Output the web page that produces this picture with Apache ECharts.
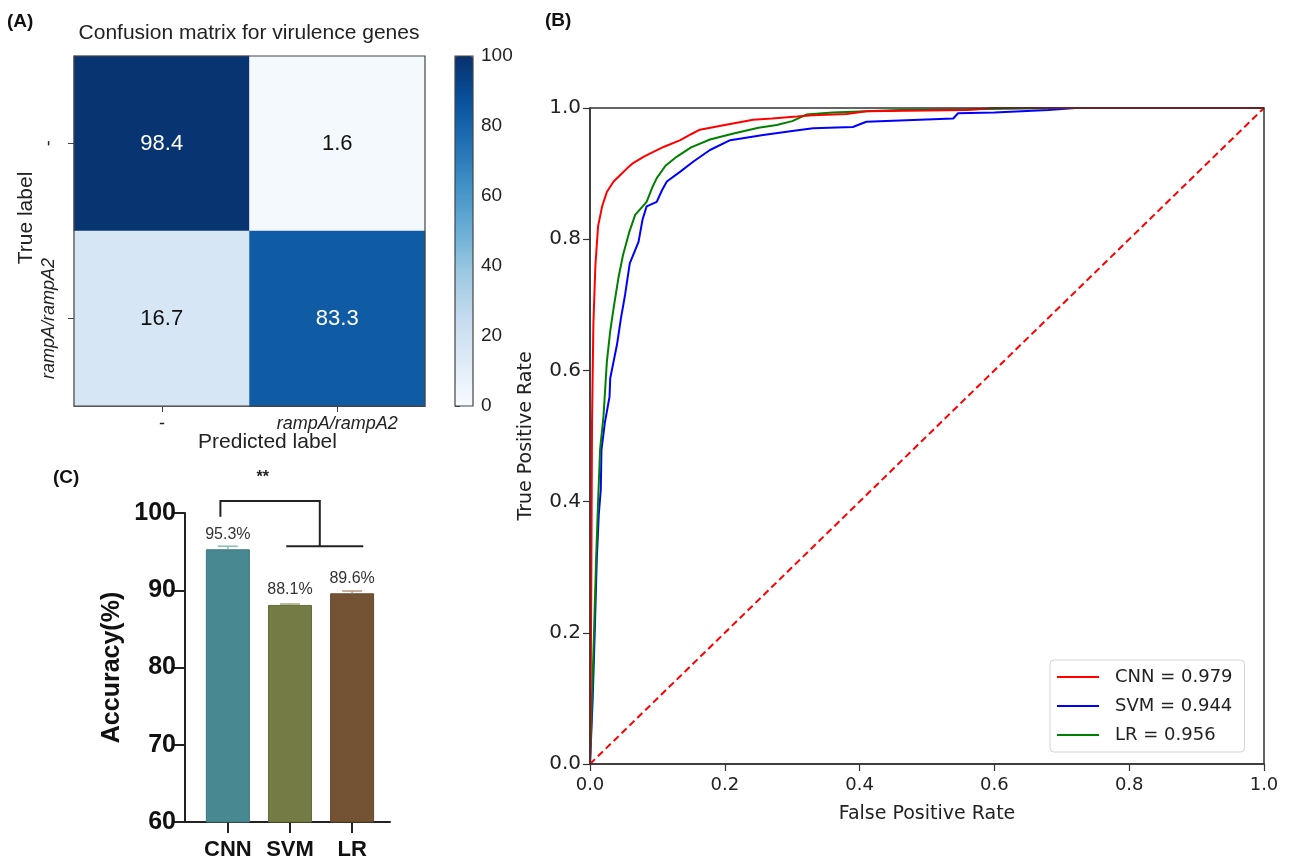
<!DOCTYPE html>
<html><head><meta charset="utf-8">
<script src="https://cdn.jsdelivr.net/npm/echarts@6/dist/echarts.min.js"></script>
<style>html,body{margin:0;padding:0;background:#fff}#c{width:1290px;height:863px}</style>
</head><body><div id="c"></div>
<script>
// ---------- Panel A: confusion matrix ----------
const cmPredicted = ['-', 'rampA/rampA2'];
const cmTrue = ['-', 'rampA/rampA2'];
const cmValues = [[98.4, 1.6], [16.7, 83.3]]; // rows = true label, cols = predicted
const cbTicks = [0, 20, 40, 60, 80, 100];

// ---------- Panel B: ROC curves ----------
const cnnFpr = [0, 0.001, 0.002, 0.003, 0.005, 0.008, 0.012, 0.018, 0.025, 0.035, 0.045, 0.055, 0.064, 0.08, 0.094, 0.11, 0.134, 0.15, 0.163, 0.2, 0.242, 0.27, 0.307, 0.33, 0.381, 0.41, 0.5, 0.56, 0.6, 1];
const cnnTpr = [0, 0.1, 0.3, 0.52, 0.67, 0.76, 0.82, 0.85, 0.872, 0.888, 0.898, 0.908, 0.916, 0.926, 0.933, 0.941, 0.951, 0.96, 0.967, 0.974, 0.982, 0.984, 0.987, 0.989, 0.991, 0.995, 0.996, 0.997, 1.0, 1];
const svmFpr = [0, 0.004, 0.007, 0.01, 0.013, 0.016, 0.017, 0.022, 0.029, 0.03, 0.04, 0.046, 0.052, 0.059, 0.072, 0.078, 0.084, 0.099, 0.107, 0.114, 0.134, 0.153, 0.178, 0.208, 0.257, 0.3, 0.331, 0.39, 0.41, 0.539, 0.546, 0.6, 0.68, 0.72, 1];
const svmTpr = [0, 0.1, 0.2, 0.31, 0.38, 0.418, 0.479, 0.52, 0.56, 0.588, 0.639, 0.68, 0.715, 0.763, 0.796, 0.83, 0.85, 0.857, 0.875, 0.888, 0.903, 0.918, 0.936, 0.951, 0.959, 0.965, 0.969, 0.971, 0.979, 0.984, 0.992, 0.993, 0.997, 1.0, 1];
const lrFpr = [0, 0.003, 0.006, 0.009, 0.012, 0.015, 0.02, 0.025, 0.03, 0.035, 0.042, 0.049, 0.058, 0.067, 0.084, 0.092, 0.099, 0.112, 0.129, 0.15, 0.178, 0.213, 0.25, 0.277, 0.3, 0.321, 0.36, 0.46, 0.56, 0.7, 1];
const lrTpr = [0, 0.1, 0.2, 0.31, 0.4, 0.48, 0.53, 0.613, 0.66, 0.695, 0.74, 0.776, 0.81, 0.837, 0.857, 0.878, 0.893, 0.912, 0.926, 0.94, 0.952, 0.961, 0.97, 0.974, 0.98, 0.99, 0.993, 0.997, 0.998, 1.0, 1];
const rocNames = ['CNN = 0.979', 'SVM = 0.944', 'LR = 0.956'];
const chanceFpr = [0, 1];
const chanceTpr = [0, 1];

// ---------- Panel C: accuracy bars ----------
const accCats = ['CNN', 'SVM', 'LR'];
const accValues = [95.3, 88.1, 89.6];
const accErrors = [0.4, 0.12, 0.3];

// ---------- styles ----------
const blues = ['#f7fbff', '#deebf7', '#c6dbef', '#9ecae1', '#6baed6', '#4292c6', '#2171b5', '#08519c', '#08306b'];
const rocColors = ['#ff0000', '#0000ff', '#008000'];
const barColors = ['#478891', '#757b45', '#745334'];
const barBorders = ['#3d7880', '#666b3a', '#65472b'];
const errColors = ['#86bcc3', '#a3a87a', '#b8987a'];
const ARIAL = '"Liberation Sans", Arial, sans-serif';
const DEJAVU = '"DejaVu Sans", sans-serif';

const zip = (a, b) => a.map((v, i) => [v, b[i]]);

const heatData = [];
cmValues.forEach((row, i) => row.forEach((v, j) => {
  heatData.push({ value: [j, i, v], label: { color: v > 50 ? '#ffffff' : '#111111' } });
}));

const chart = echarts.init(document.getElementById('c'), null, { renderer: 'canvas' });

const option = {
  animation: false,
  backgroundColor: '#ffffff',
  grid: [
    { left: 74, top: 56, width: 351, height: 350, show: true, borderColor: '#444', borderWidth: 1.2, z: 5 },
    { left: 455, top: 56, width: 18, height: 350, show: true, borderColor: '#444', borderWidth: 1.2, z: 10 },
    { left: 590, top: 108, width: 674, height: 656, show: true, borderColor: '#333', borderWidth: 1.5, z: 5 },
    { left: 185, top: 513, width: 205, height: 309 }
  ],
  xAxis: [
    { type: 'category', gridIndex: 0, data: cmPredicted, position: 'bottom',
      axisLine: { show: true, lineStyle: { color: '#444', width: 1.2 } },
      axisTick: { show: true, alignWithLabel: true, length: 6, lineStyle: { color: '#444' } },
      axisLabel: { fontFamily: ARIAL, fontSize: 18, fontStyle: 'italic', color: '#222', margin: 9, interval: 0 },
      splitLine: { show: false },
      name: 'Predicted label', nameLocation: 'middle', nameGap: 26, nameMoveOverlap: false,
      nameTextStyle: { fontFamily: ARIAL, fontSize: 21, color: '#222', padding: [0, 0, 0, 36] } },
    { type: 'value', gridIndex: 1, show: false, min: 0, max: 1 },
    { type: 'value', gridIndex: 2, min: 0, max: 1, interval: 0.2,
      axisLine: { show: true, lineStyle: { color: '#333', width: 1.5 } },
      axisTick: { show: true, length: 7, lineStyle: { color: '#333', width: 1.2 } },
      axisLabel: { fontFamily: DEJAVU, fontSize: 18, color: '#222', margin: 12, formatter: v => v.toFixed(1) },
      splitLine: { show: false },
      name: 'False Positive Rate', nameLocation: 'middle', nameGap: 41, nameMoveOverlap: false,
      nameTextStyle: { fontFamily: DEJAVU, fontSize: 19, color: '#222' } },
    { type: 'value', gridIndex: 3, min: -0.69, max: 2.61,
      axisLine: { show: true, onZero: false, lineStyle: { color: '#222', width: 2 } },
      axisTick: { show: true, customValues: [0, 1, 2], length: 11, lineStyle: { color: '#222', width: 2 } },
      axisLabel: { customValues: [0, 1, 2], formatter: v => accCats[Math.round(v)], fontFamily: ARIAL, fontWeight: 'bold', fontSize: 22, color: '#111', margin: 17 },
      splitLine: { show: false } }
  ],
  yAxis: [
    { type: 'category', gridIndex: 0, data: cmTrue, inverse: true,
      axisLine: { show: true, lineStyle: { color: '#444', width: 1.2 } },
      axisTick: { show: true, alignWithLabel: true, length: 6, lineStyle: { color: '#444' } },
      axisLabel: { fontFamily: ARIAL, fontSize: 18, fontStyle: 'italic', color: '#222', rotate: 90, margin: 16, interval: 0 },
      splitLine: { show: false },
      name: 'True label', nameLocation: 'middle', nameGap: 37, nameMoveOverlap: false,
      nameTextStyle: { fontFamily: ARIAL, fontSize: 21, color: '#222', padding: [0, 0, 0, 26] } },
    { type: 'value', gridIndex: 1, position: 'right', min: 0, max: 100, interval: 20,
      axisLine: { show: false },
      axisTick: { show: true, length: 5, lineStyle: { color: '#444' } },
      axisLabel: { fontFamily: ARIAL, fontSize: 19, color: '#222', margin: 8 },
      splitLine: { show: false } },
    { type: 'value', gridIndex: 2, min: 0, max: 1, interval: 0.2,
      axisLine: { show: true, lineStyle: { color: '#333', width: 1.5 } },
      axisTick: { show: true, length: 7, lineStyle: { color: '#333', width: 1.2 } },
      axisLabel: { fontFamily: DEJAVU, fontSize: 20, color: '#222', margin: 9, formatter: v => v.toFixed(1) },
      splitLine: { show: false },
      name: 'True Positive Rate', nameLocation: 'middle', nameGap: 54, nameMoveOverlap: false,
      nameTextStyle: { fontFamily: DEJAVU, fontSize: 19, color: '#222' } },
    { type: 'value', gridIndex: 3, min: 60, max: 100, interval: 10,
      axisLine: { show: true, onZero: false, lineStyle: { color: '#222', width: 2 } },
      axisTick: { show: true, length: 11, lineStyle: { color: '#222', width: 2 } },
      axisLabel: { fontFamily: ARIAL, fontWeight: 'bold', fontSize: 25, color: '#111', margin: 9 },
      splitLine: { show: false },
      name: 'Accuracy(%)', nameLocation: 'middle', nameGap: 60, nameMoveOverlap: false,
      nameTextStyle: { fontFamily: ARIAL, fontWeight: 'bold', fontSize: 25, color: '#111' } }
  ],
  visualMap: {
    type: 'continuous', seriesIndex: 0, min: 0, max: 100, calculable: false, realtime: false,
    orient: 'vertical', left: 455, top: 56, itemWidth: 18, itemHeight: 350, padding: 0,
    text: null, showLabel: false, hoverLink: false,
    inRange: { color: blues }
  },
  legend: {
    data: rocNames, orient: 'vertical', left: 1050, top: 660,
    icon: 'rect', itemWidth: 42, itemHeight: 2, itemGap: 11,
    padding: [8, 12, 8, 7], borderColor: '#d4d4d4', borderWidth: 1, borderRadius: 4,
    backgroundColor: '#fff',
    textStyle: { fontFamily: DEJAVU, fontSize: 18, color: '#222', padding: [0, 0, 0, 11] }
  },
  graphic: [
    { type: 'text', left: 7, top: 12, style: { text: '(A)', font: 'bold 19px "Liberation Sans", Arial', fill: '#111' } },
    { type: 'text', left: 545, top: 11, style: { text: '(B)', font: 'bold 19px "Liberation Sans", Arial', fill: '#111' } },
    { type: 'text', left: 53, top: 468, style: { text: '(C)', font: 'bold 19px "Liberation Sans", Arial', fill: '#111' } },
    { type: 'text', x: 249, y: 33, style: { text: 'Confusion matrix for virulence genes', font: '21px "Liberation Sans", Arial', fill: '#222', textAlign: 'center', textVerticalAlign: 'middle' } }
  ],
  series: [
    { type: 'heatmap', xAxisIndex: 0, yAxisIndex: 0, data: heatData,
      label: { show: true, fontFamily: ARIAL, fontSize: 22, formatter: p => p.value[2].toFixed(1) },
      emphasis: { disabled: true } },
    { type: 'line', name: rocNames[0], xAxisIndex: 2, yAxisIndex: 2, data: zip(cnnFpr, cnnTpr), showSymbol: false, symbol: 'none',
      lineStyle: { color: rocColors[0], width: 2 }, itemStyle: { color: rocColors[0] }, z: 4 },
    { type: 'line', name: rocNames[1], xAxisIndex: 2, yAxisIndex: 2, data: zip(svmFpr, svmTpr), showSymbol: false, symbol: 'none',
      lineStyle: { color: rocColors[1], width: 2 }, itemStyle: { color: rocColors[1] }, z: 2 },
    { type: 'line', name: rocNames[2], xAxisIndex: 2, yAxisIndex: 2, data: zip(lrFpr, lrTpr), showSymbol: false, symbol: 'none',
      lineStyle: { color: rocColors[2], width: 2 }, itemStyle: { color: rocColors[2] }, z: 3 },
    { type: 'line', name: 'chance', xAxisIndex: 2, yAxisIndex: 2, data: zip(chanceFpr, chanceTpr), showSymbol: false, symbol: 'none',
      lineStyle: { color: '#ff0000', width: 2, type: [7, 4] }, z: 2 },
    { type: 'bar', xAxisIndex: 3, yAxisIndex: 3, barWidth: 44, z: 3,
      data: accValues.map((v, i) => ({ value: [i, v], itemStyle: { color: barColors[i], borderColor: barBorders[i], borderWidth: 1 } })),
      label: { show: true, position: 'top', distance: 7, fontFamily: ARIAL, fontSize: 16, color: '#333', formatter: p => p.value[1].toFixed(1) + '%' } },
    { type: 'custom', xAxisIndex: 3, yAxisIndex: 3, z: 4, clip: false, silent: true,
      data: accValues.map((v, i) => [i, v]),
      renderItem: (params, api) => {
        const i = params.dataIndex;
        const x = api.value(0), y = api.value(1), e = accErrors[i];
        const t = api.coord([x, y + e]), b = api.coord([x, y]);
        const st = { stroke: errColors[i], lineWidth: 1.5 };
        return { type: 'group', children: [
          { type: 'line', shape: { x1: t[0], y1: t[1], x2: b[0], y2: b[1] }, style: st },
          { type: 'line', shape: { x1: t[0] - 10, y1: t[1], x2: t[0] + 10, y2: t[1] }, style: st }
        ] };
      } },
    { type: 'custom', xAxisIndex: 3, yAxisIndex: 3, z: 5, clip: false, silent: true,
      data: [[0, 100]],
      renderItem: (params, api) => {
        const p = (x, y) => api.coord([x, y]);
        const a = p(-0.12, 99.5), bTop = p(-0.12, 101.55), cTop = p(1.48, 101.55), d = p(1.48, 95.7);
        const e1 = p(0.94, 95.7), e2 = p(2.18, 95.7), star = p(0.56, 104.6);
        const st = { stroke: '#222', lineWidth: 2, fill: null };
        return { type: 'group', children: [
          { type: 'polyline', shape: { points: [a, bTop, cTop, d] }, style: st },
          { type: 'line', shape: { x1: e1[0], y1: e1[1], x2: e2[0], y2: e2[1] }, style: st },
          { type: 'text', x: star[0], y: star[1], style: { text: '**', font: 'bold 16px "Liberation Sans", Arial', fill: '#222', textAlign: 'center', textVerticalAlign: 'middle' } }
        ] };
      } }
  ]
};
chart.setOption(option);
</script>
</body></html>
